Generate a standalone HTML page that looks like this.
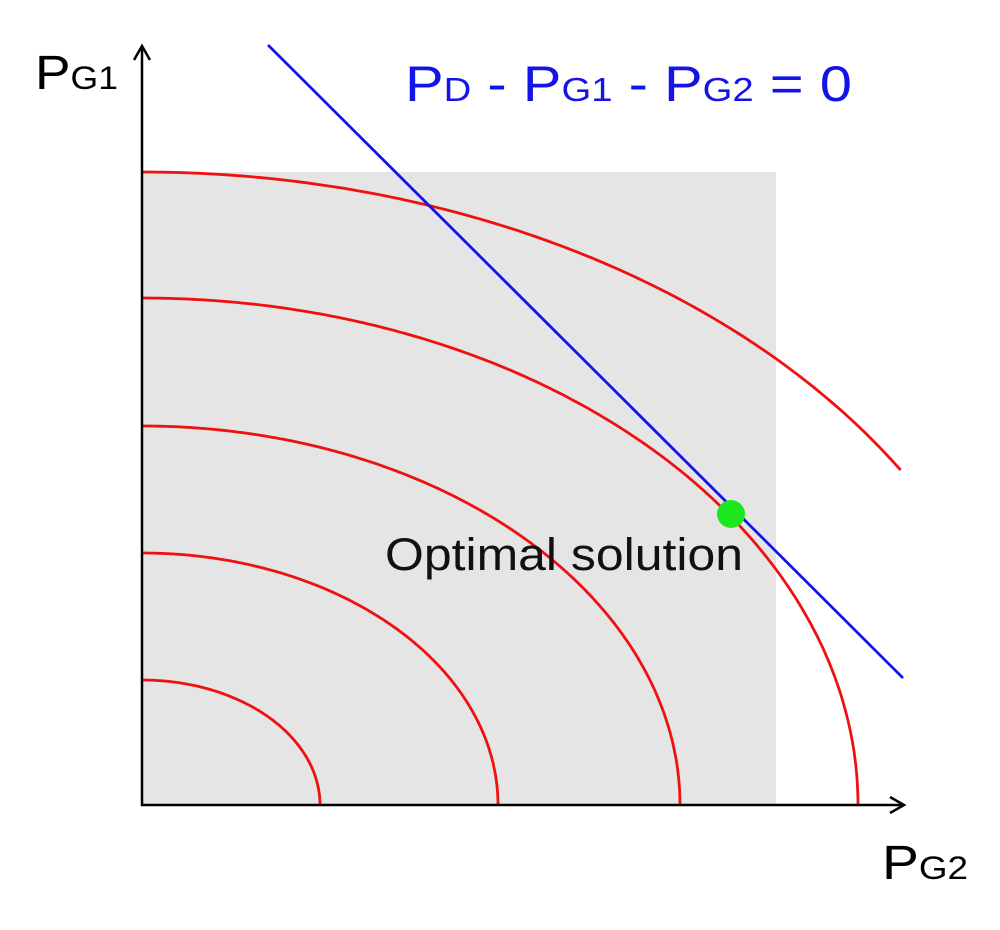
<!DOCTYPE html>
<html><head><meta charset="utf-8"><style>
html,body{margin:0;padding:0;background:#fff;}
svg{display:block;font-family:"Liberation Sans",Arial,sans-serif;}
</style></head><body>
<svg id="chart" width="1000" height="930" viewBox="0 0 1000 930">
<rect x="142" y="172" width="634" height="633" fill="#e5e5e5"/>
<g id="curves"></g>
<line id="bal" stroke="#1414e6" stroke-width="2.8"/>
<circle id="opt" r="14" fill="#1ee61e"/>
<g stroke="#000" stroke-width="2.5" fill="none">
<line x1="142" y1="806" x2="142" y2="47"/><polyline points="134,60 142,46 150,60"/>
<line x1="141" y1="805" x2="903" y2="805"/><polyline points="890,797 904,805 890,813"/>
</g>
<text x="35" y="89" font-size="48" textLength="83" lengthAdjust="spacingAndGlyphs">P<tspan font-size="32">G1</tspan></text>
<text x="882" y="879" font-size="48" textLength="86" lengthAdjust="spacingAndGlyphs">P<tspan font-size="32">G2</tspan></text>
<text x="405" y="101" font-size="50" fill="#1414e6" textLength="447" lengthAdjust="spacingAndGlyphs">P<tspan font-size="33">D</tspan> - P<tspan font-size="33">G1</tspan> - P<tspan font-size="33">G2</tspan> = 0</text>
<text x="385" y="570" font-size="45" fill="#111" textLength="358" lengthAdjust="spacingAndGlyphs">Optimal solution</text>
</svg>
<script>
const levelNames=["c1","c2","c3","c4","c5"];
const levelX=[178,356,538,716,894];
const levelY=[125,252,379,507,633];
const lineStart=[126,760];
const lineEnd=[761,127];
const optimum=[589,291];
const ox=142, oy=805, xMax=903;
const sx=v=>ox+v, sy=v=>oy-v;
const g=document.getElementById('curves');
levelNames.forEach((n,i)=>{
  const rx=levelX[i], ry=levelY[i];
  let d='';
  for(let k=0;k<=200;k++){
    const t=k/200*Math.PI/2;
    let x=rx*Math.sin(t), y=ry*Math.cos(t);
    if(sx(x)>xMax) break;
    d+=(k?'L':'M')+sx(x).toFixed(1)+','+sy(y).toFixed(1);
  }
  const p=document.createElementNS('http://www.w3.org/2000/svg','path');
  p.setAttribute('d',d);p.setAttribute('fill','none');p.setAttribute('stroke','#f01010');p.setAttribute('stroke-width','2.8');
  
  
  g.appendChild(p);
});
const l=document.getElementById('bal');
l.setAttribute('x1',sx(lineStart[0]));l.setAttribute('y1',sy(lineStart[1]));
l.setAttribute('x2',sx(lineEnd[0]));l.setAttribute('y2',sy(lineEnd[1]));
const c=document.getElementById('opt');
c.setAttribute('cx',sx(optimum[0]));c.setAttribute('cy',sy(optimum[1]));
</script>
</body></html>
